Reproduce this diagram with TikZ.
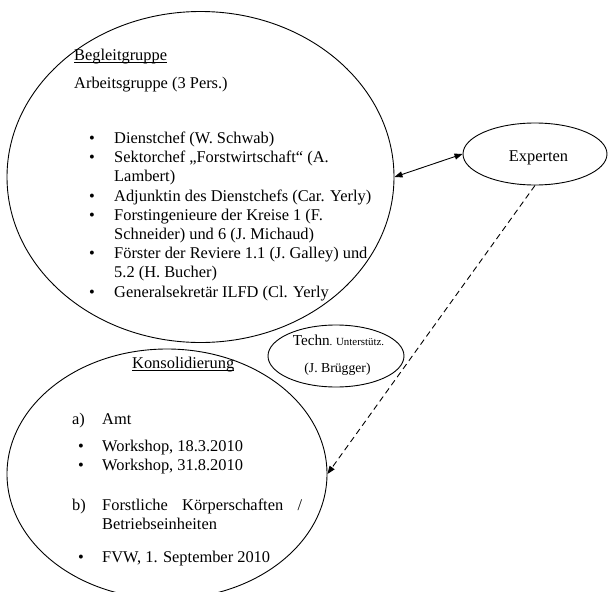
\documentclass[tikz,border=0pt]{standalone}
\usepackage{fontspec}
\setmainfont{Liberation Serif}
\usetikzlibrary{shapes.geometric,arrows.meta}
\newcommand\ulbox[1]{\setbox0\hbox{#1}\rlap{\rule[-2.6pt]{\wd0}{0.8pt}}\box0}
\tikzset{
  ell/.style={draw, ellipse, inner sep=0pt, line width=0.9pt},
  txt/.style={anchor=base west, inner sep=0pt, font=\fontsize{16.4}{19.2}\selectfont},
  bul/.style={anchor=base, inner sep=0pt, font=\fontsize{16.4}{19.2}\selectfont},
  conn/.style={line width=0.9pt, {Triangle[length=8pt,width=6pt]}-{Triangle[length=8pt,width=6pt]}},
  dconn/.style={line width=0.9pt, dash pattern=on 6pt off 4pt, -{Triangle[length=8pt,width=6pt]}}
}
\begin{document}
\begin{tikzpicture}[x=1pt,y=-1pt]
\useasboundingbox (0,0) rectangle (611,592);
\clip (0,0) rectangle (611,592);
% shapes
\node[ell, minimum width=387pt, minimum height=331pt] (big) at (200.5,177) {};
\node[ell, minimum width=320pt, minimum height=250pt] (kons) at (167,474) {};
\node[ell, minimum width=136pt, minimum height=62pt] (tech) at (336,356) {};
\node[ell, minimum width=144pt, minimum height=62pt] (exp) at (535,154) {};
% Begleitgruppe text
\node[txt] (h1) at (74,60) {\ulbox{Begleitgruppe}};
\node[txt] (h2) at (74,88) {Arbeitsgruppe (3 Pers.)};
\node[bul] (b1) at (92,143.5) {\textbullet};
\node[txt] (l1) at (114,143.5) {Dienstchef (W. Schwab)};
\node[bul] (b2) at (92,162.7) {\textbullet};
\node[txt] (l2) at (114,162.7) {Sektorchef „Forstwirtschaft“ (A.};
\node[txt] (l3) at (114,181.9) {Lambert)};
\node[bul] (b4) at (92,201.1) {\textbullet};
\node[txt] (l4) at (114,201.1) {Adjunktin des Dienstchefs (Car. Yerly)};
\node[bul] (b5) at (92,220.3) {\textbullet};
\node[txt] (l5) at (114,220.3) {Forstingenieure der Kreise 1 (F.};
\node[txt] (l6) at (114,239.5) {Schneider) und 6 (J. Michaud)};
\node[bul] (b7) at (92,258.7) {\textbullet};
\node[txt] (l7) at (114,258.7) {Förster der Reviere 1.1 (J. Galley) und};
\node[txt] (l8) at (114,277.9) {5.2 (H. Bucher)};
\node[bul] (b9) at (92,297.1) {\textbullet};
\node[txt] (l9) at (114,297.1) {Generalsekretär ILFD (Cl. Yerly};
% Techn text
\node[anchor=base, inner sep=0pt] (tt1) at (338.5,345) {{\fontsize{15.2}{18}\selectfont Techn}{\fontsize{10.9}{13}\selectfont . Unterstütz.}};
\node[anchor=base, inner sep=0pt, font=\fontsize{13.7}{16}\selectfont] (tt2) at (337.5,372) {(J. Brügger)};
% Experten text
\node[anchor=base, inner sep=0pt, font=\fontsize{16.4}{19.2}\selectfont] (et) at (538.5,161) {Experten};
% Konsolidierung text
\node[txt] (k0) at (132,368) {\ulbox{Konsolidierung}};
\node[txt] (ka) at (72,424) {a)};
\node[txt] (ka2) at (102,424) {Amt};
\node[bul] (kb1) at (81,451) {\textbullet};
\node[txt] (kw1) at (102,451) {Workshop, 18.3.2010};
\node[bul] (kb2) at (81,470) {\textbullet};
\node[txt] (kw2) at (102,470) {Workshop, 31.8.2010};
\node[txt] (kb) at (72,510) {b)};
\node[txt] (kb3) at (102,510) {\makebox[200pt][s]{Forstliche Körperschaften /}};
\node[txt] (kb4) at (102,529) {Betriebseinheiten};
\node[bul] (kb5) at (81,562) {\textbullet};
\node[txt] (kb6) at (102,562) {FVW, 1. September 2010};
% connectors
\draw[conn] (big.east) -- (exp.west);
\draw[dconn] (exp.south) -- (kons.east);
\end{tikzpicture}
\end{document}
